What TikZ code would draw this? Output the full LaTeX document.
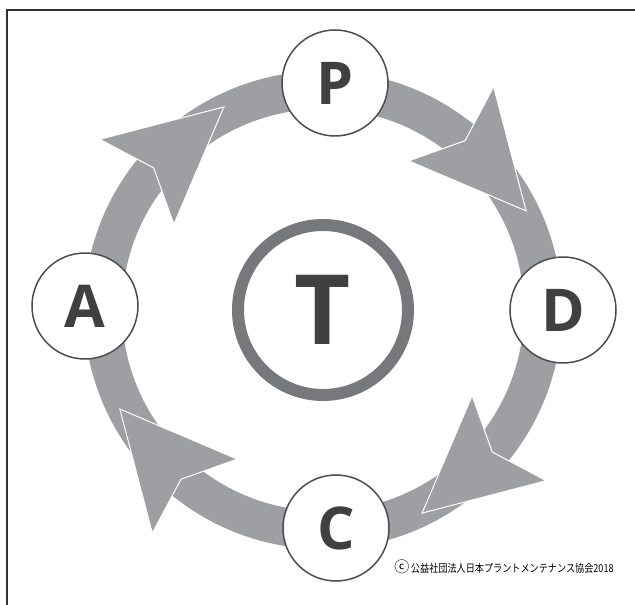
\documentclass[tikz,border=0pt]{standalone}
\usepackage{fontspec}
\newfontfamily\stagefont{Open Sans}
\newfontfamily\cjk{Noto Sans CJK JP}
\usepackage{graphicx}
\usepackage{xcolor}
\definecolor{band}{RGB}{158, 159, 163}
\definecolor{hub}{RGB}{119, 120, 123}
\definecolor{rim}{RGB}{77, 77, 79}
\definecolor{letter}{RGB}{64, 64, 66}
\definecolor{frame}{RGB}{51, 51, 51}
\usepackage{tikz}
\usetikzlibrary{calc}

\begin{document}
\begin{tikzpicture}[x=1pt, y=1pt]
    \useasboundingbox (-323,-295) rectangle (312,310);
    \draw[frame, line width=2] (-316,-296) -- (-316,300) -- (313,300);

    \draw[band, line width=38] (0,0) circle (220);
    \foreach \a in {0,-90,-180,-270}
        \filldraw[fill=band, draw=white, line width=1, line join=miter]
            (116+\a:226) -- (150.1+\a:172) -- (140+\a:221) -- (142.6+\a:281) -- cycle;

    \tikzset{stagecircle/.style={circle, minimum size=106, inner sep=0, fill=white, draw=rim, line width=1.5,
        text=letter, font=\stagefont\bfseries\fontsize{59}{59}\selectfont}}
    \node[stagecircle] (P) at (12,227) {P};
    \node[stagecircle] (D) at (240,0) {D};
    \node[stagecircle] (C) at (13,-218) {C};
    \node[stagecircle] (A) at (-238,4) {A};

    \node[circle, minimum size=170, inner sep=0, draw=hub, line width=12, text=letter,
        font=\stagefont\bfseries\fontsize{97}{97}\selectfont] (T) at (0,0) {T};

    \node[text=black, inner sep=0] (copy) at (181,-257)
        {{\cjk\fontsize{15}{15}\selectfont ⓒ}\,\scalebox{0.83}[1]{\cjk\fontsize{11}{11}\selectfont 公益社団法人日本プラントメンテナンス協会2018}};
\end{tikzpicture}
\end{document}
